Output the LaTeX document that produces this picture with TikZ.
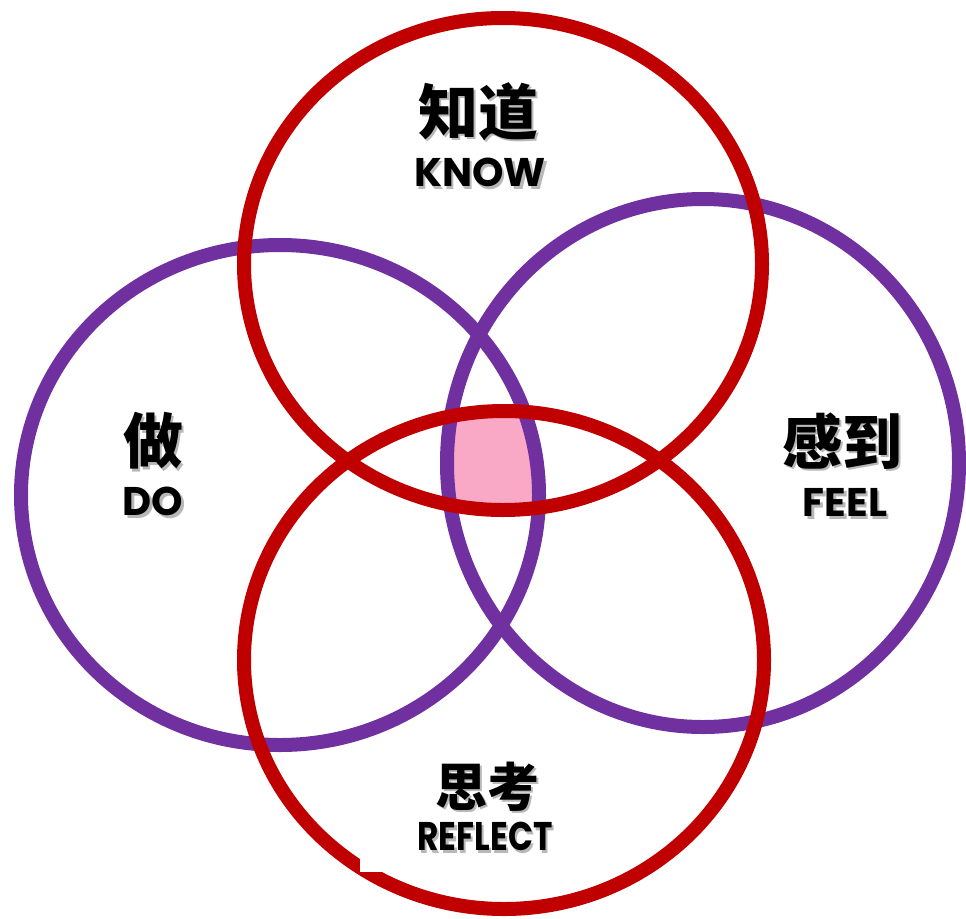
\documentclass[tikz,border=0pt]{standalone}
\usepackage{fontspec}
\newfontfamily\cjk{Noto Sans CJK SC}
\newfontfamily\lat{Poppins}
\definecolor{cred}{HTML}{C00000}
\definecolor{cpurple}{HTML}{7030A0}
\definecolor{cpink}{HTML}{F9A8C6}
\newcommand\shtext[1]{\makebox[0pt][l]{\raisebox{-2.5pt}{\hspace{2.5pt}\textcolor{black!28}{#1}}}#1}
\begin{document}
\begin{tikzpicture}[x=1pt,y=-1pt,
  ring/.style={line width=14pt},
  zh/.style={font=\cjk\bfseries\fontsize{60}{60}\selectfont, inner sep=0pt},
  en/.style={font=\lat\bfseries\fontsize{40}{40}\selectfont, inner sep=0pt}]
\useasboundingbox (0,0) rectangle (966,918);
% pink centre
\begin{scope}
  \clip (503,264) ellipse [x radius=259pt, y radius=246pt];
  \clip (504,660) ellipse [x radius=260pt, y radius=249pt];
  \clip (280,495) ellipse [x radius=259pt, y radius=250pt];
  \fill[cpink] (703,463) ellipse [x radius=256pt, y radius=264pt];
\end{scope}
% purple circles
\draw[ring, cpurple] (280,495) ellipse [x radius=259pt, y radius=250pt];
\draw[ring, cpurple] (703,463) ellipse [x radius=256pt, y radius=264pt];
% red circles
\draw[ring, cred] (503,264) ellipse [x radius=259pt, y radius=246pt];
\draw[ring, cred] (504,660) ellipse [x radius=260pt, y radius=249pt];
% small notch
\fill[white] (360,850) rectangle (384,872);
% labels
\node[zh] (knowzh) at (478,113) {\shtext{知道}};
\node[en] (knowen) at (480,174) {\shtext{KNOW}};
\node[zh] (dozh) at (153,442) {\shtext{做}};
\node[en] (doen) at (153,503) {\shtext{DO}};
\node[zh] (feelzh) at (842,442) {\shtext{感到}};
\node[en] (feelen) at (845,504) {\shtext{FEEL}};
\node[zh, font=\cjk\bfseries\fontsize{52}{52}\selectfont] (refzh) at (487,788) {\shtext{思考}};
\node[en, xscale=0.82] (refen) at (485,838) {\shtext{REFLECT}};
\end{tikzpicture}
\end{document}
